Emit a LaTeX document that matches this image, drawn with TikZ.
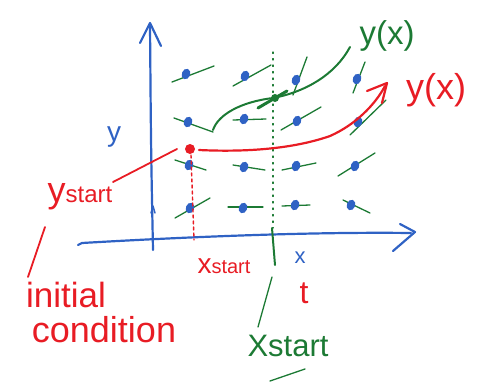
\documentclass[tikz,border=0pt]{standalone}
\usepackage{fontspec}
\setmainfont{Liberation Sans}
\begin{document}
\begin{tikzpicture}[x=1pt,y=-1pt,line cap=round,line join=round]
\definecolor{pblue}{RGB}{47,98,196}
\definecolor{pgreen}{RGB}{28,122,52}
\definecolor{pred}{RGB}{232,28,36}
\tikzset{
  axis/.style={draw=pblue,line width=2.2pt},
  slope/.style={draw=pgreen,line width=1.3pt},
  redpen/.style={draw=pred,line width=1.8pt},
  greenpen/.style={draw=pgreen,line width=1.8pt},
  lbl/.style={inner sep=0pt}
}
\useasboundingbox (0,0) rectangle (479,383);
% axes
\draw[axis] (153,250) .. controls (151,150) .. (150,24);
\draw[axis] (140,43) -- (150,23) -- (161,46);
\draw[axis,line width=1.5pt] (151,213) -- (153,206) -- (155,213);
\draw[axis] (78,245) -- (82,243) .. controls (220,235) and (330,232) .. (411,233);
\draw[axis] (400,224) -- (415,232) -- (393,251);
% slope field
\foreach \px/\py/\ax/\ay/\bx/\by in {
 186/74/172/82/214/66, 245/76/233/86/271/65, 296/80/293/95/307/57, 357/79/353/93/365/62,
 188/122/174/118/213/132, 244/119/233/120/266/119, 297/121/281/130/321/107, 358/122/350/135/386/100,
 189/165/175/160/206/170, 244/167/233/165/265/170, 296/166/282/170/316/163, 355/166/338/176/375/153,
 190/208/175/218/210/198, 243/208/228/207/263/207, 295/205/282/206/310/205, 351/205/343/200/370/213}{
  \draw[slope] (\ax,\ay) -- (\bx,\by);
  \fill[pblue,rotate around={-20:(\px,\py)}] (\px,\py) ellipse (4.2pt and 5.4pt);
}
% green vertical marker
\draw[pgreen,line width=1.2pt,dash pattern=on 1.5pt off 5pt] (273,52) -- (273,228);
\draw[greenpen,line width=2pt] (272,228) -- (275,265);
\draw[greenpen,line width=1.3pt] (272,277) -- (258,327);
\draw[greenpen,line width=1.3pt] (270,381) -- (305,369);
% green solution curve
\draw[greenpen,line width=2pt] (213,130) .. controls (218,115) and (240,102) .. (273,98)
  .. controls (305,92) and (335,75) .. (350,47);
\draw[greenpen,line width=3pt] (258,108) -- (287,91);
\fill[pgreen] (275,98) circle (4pt);
% red initial point and solution
\draw[redpen,dashed,line width=1.4pt] (191,155) -- (194,240);
\fill[pred] (190,149) circle (5pt);
\draw[redpen,line width=2.2pt] (199,150) .. controls (240,152) and (290,150) .. (330,136)
  .. controls (355,125) and (375,105) .. (385,86);
\draw[redpen,line width=2.2pt] (367,91) -- (387,83) -- (382,103);
\draw[redpen] (113,182) -- (177,149);
\draw[redpen] (45,227) -- (28,277);
% labels
\node[lbl,text=pred,font=\fontsize{36}{36}\selectfont] (yxr) at (436,90) {y(x)};
\node[lbl,text=pgreen,font=\fontsize{33}{33}\selectfont] (yxg) at (387,36) {y(x)};
\node[lbl,text=pblue,font=\fontsize{28}{28}\selectfont] (ylab) at (114,137) {y};
\node[lbl,text=pblue,font=\fontsize{22}{22}\selectfont] (xlab) at (300,258) {x};
\node[lbl,text=pred,font=\fontsize{32}{32}\selectfont] (tlab) at (304,293) {t};
\node[lbl,text=pred,font=\fontsize{36}{36}\selectfont] (ystart) at (80,197) {y\fontsize{24}{24}\selectfont start};
\node[lbl,text=pred,font=\fontsize{28}{28}\selectfont] (xstart) at (224,266) {x\fontsize{20}{20}\selectfont start};
\node[lbl,text=pgreen,font=\fontsize{31}{31}\selectfont] (xstartg) at (288,346) {Xstart};
\node[lbl,text=pred,font=\fontsize{35}{35}\selectfont] (init) at (66,295) {initial};
\node[lbl,text=pred,font=\fontsize{36}{36}\selectfont] (cond) at (104,330) {condition};
\end{tikzpicture}
\end{document}
